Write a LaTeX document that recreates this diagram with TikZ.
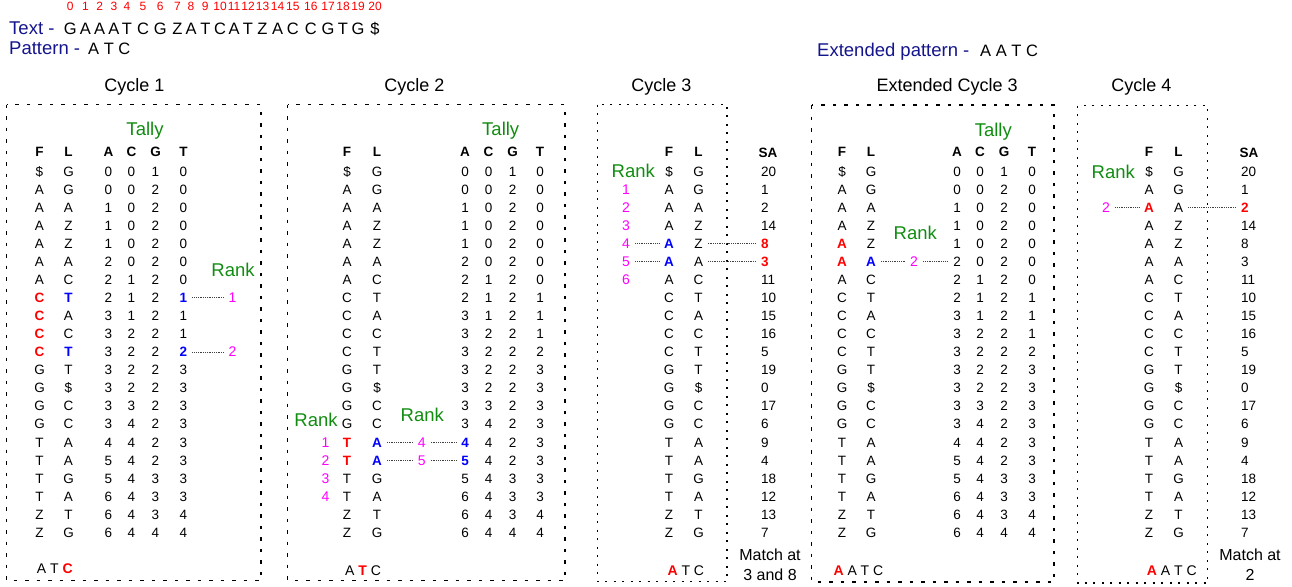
\documentclass[tikz,border=0pt]{standalone}
\usepackage{fontspec}
\setmainfont{Liberation Sans}

\definecolor{navy}{RGB}{20,20,140}
\definecolor{tgreen}{RGB}{16,140,16}
\definecolor{hred}{RGB}{255,0,0}
\definecolor{hblue}{RGB}{0,0,255}
\definecolor{rankpink}{RGB}{255,0,255}

\newcommand\px[1]{\fontsize{#1}{#1}\selectfont}
% baseline of table row #1 (row 0 is the "$" row)
\newcommand\rowy[1]{176.25+18.05*#1}

% highlighted cells: \sethl{<cell>}{<format>}
\newcommand\hlfmt[2]{\ifcsname hl@#1\endcsname\csname hl@#1\endcsname\fi#2}
\newcommand\sethl[2]{\expandafter\def\csname hl@#1\endcsname{#2}}
\newcommand\hlR{\color{hred}\bfseries}
\newcommand\hlB{\color{hblue}\bfseries}

% rows: F / L / tally A / C / G / T / SA
\newcommand\bwrows{\$/G/0/0/1/0/20, A/G/0/0/2/0/1, A/A/1/0/2/0/2, A/Z/1/0/2/0/14,
 A/Z/1/0/2/0/8, A/A/2/0/2/0/3, A/C/2/1/2/0/11, C/T/2/1/2/1/10, C/A/3/1/2/1/15,
 C/C/3/2/2/1/16, C/T/3/2/2/2/5, G/T/3/2/2/3/19, G/\$/3/2/2/3/0, G/C/3/3/2/3/17,
 G/C/3/4/2/3/6, T/A/4/4/2/3/9, T/A/5/4/2/3/4, T/G/5/4/3/3/18, T/A/6/4/3/3/12,
 Z/T/6/4/3/4/13, Z/G/6/4/4/4/7}

\tikzset{
  cell/.style={inner sep=0pt, anchor=base, text height=9.6pt, text depth=0pt, font=\px{13.5}},
  head/.style={cell, font=\px{13.5}\bfseries},
  rankno/.style={cell, text=rankpink, font=\px{14}},
  lbl/.style={inner sep=0pt, anchor=base, text=tgreen, font=\px{18.5}},
  title/.style={inner sep=0pt, anchor=base, font=\px{18}},
  navytext/.style={inner sep=0pt, anchor=base west, text=navy, font=\px{18.5}},
  seq/.style={inner sep=0pt, anchor=base, font=\px{16.5}},
  idx/.style={inner sep=0pt, anchor=base, text=hred, font=\px{12}},
  pat/.style={inner sep=0pt, anchor=base west, font=\px{14}},
  matchtxt/.style={inner sep=0pt, anchor=base, font=\px{16}},
  link/.style={draw=black!75, line width=0.7pt, dash pattern=on 0.9pt off 0.9pt,
    shorten <=5pt, shorten >=5pt},
  widebox/.style={draw=black, line width=1.6pt, dash pattern=on 3.5pt off 8pt},
  narrowbox/.style={draw=black, line width=1.3pt, dash pattern=on 2pt off 6.5pt},
}

% F and L columns: #1 name, #2 x of F, #3 x of L
\newcommand\FLcols[3]{%
  \node[head] (#1hF) at (#2,156.5) {F};
  \node[head] (#1hL) at (#3,156.5) {L};
  \foreach \vF/\vL/\vA/\vC/\vG/\vT/\vS [count=\ri from 0] in \bwrows {
    \node[cell] (#1F\ri) at (#2,{\rowy{\ri}}) {\hlfmt{#1F\ri}{\vF}};
    \node[cell] (#1L\ri) at (#3,{\rowy{\ri}}) {\hlfmt{#1L\ri}{\vL}};
  }%
}
% tally columns: #1 name, #2..#5 x of A, C, G, T
\newcommand\tallycols[5]{%
  \node[head] (#1hA) at (#2,156.5) {A};
  \node[head] (#1hC) at (#3,156.5) {C};
  \node[head] (#1hG) at (#4,156.5) {G};
  \node[head] (#1hT) at (#5,156.5) {T};
  \foreach \vF/\vL/\vA/\vC/\vG/\vT/\vS [count=\ri from 0] in \bwrows {
    \node[cell] (#1A\ri) at (#2,{\rowy{\ri}}) {\hlfmt{#1A\ri}{\vA}};
    \node[cell] (#1C\ri) at (#3,{\rowy{\ri}}) {\hlfmt{#1C\ri}{\vC}};
    \node[cell] (#1G\ri) at (#4,{\rowy{\ri}}) {\hlfmt{#1G\ri}{\vG}};
    \node[cell] (#1T\ri) at (#5,{\rowy{\ri}}) {\hlfmt{#1T\ri}{\vT}};
  }%
}
% suffix array column: #1 name, #2 x of header, #3 left x of values
\newcommand\sacol[3]{%
  \node[head] (#1hS) at (#2,157.5) {SA};
  \foreach \vF/\vL/\vA/\vC/\vG/\vT/\vS [count=\ri from 0] in \bwrows {
    \node[cell, anchor=base west] (#1S\ri) at (#3,{\rowy{\ri}}) {\hlfmt{#1S\ri}{\vS}};
  }%
}

% highlighted cells of each cycle
\sethl{c1F7}{\hlR}\sethl{c1F8}{\hlR}\sethl{c1F9}{\hlR}\sethl{c1F10}{\hlR}
\sethl{c1L7}{\hlB}\sethl{c1L10}{\hlB}\sethl{c1T7}{\hlB}\sethl{c1T10}{\hlB}
\sethl{c2F15}{\hlR}\sethl{c2F16}{\hlR}\sethl{c2L15}{\hlB}\sethl{c2L16}{\hlB}
\sethl{c2A15}{\hlB}\sethl{c2A16}{\hlB}
\sethl{c3F4}{\hlB}\sethl{c3F5}{\hlB}\sethl{c3S4}{\hlR}\sethl{c3S5}{\hlR}
\sethl{e3F4}{\hlR}\sethl{e3F5}{\hlR}\sethl{e3L5}{\hlB}
\sethl{c4F2}{\hlR}\sethl{c4S2}{\hlR}

\begin{document}
\begin{tikzpicture}[x=1pt,y=-1pt]
\useasboundingbox (0,0) rectangle (1292,586);

% text, positions and pattern
\node[navytext] (textlbl) at (9,34.3) {Text -};
\foreach \ch/\xx [count=\i from 0] in {G/70.3, A/85.5, A/99.7, A/114, T/127, C/143,
  G/160.3, Z/177.5, A/191, T/205.3, C/220, A/234, T/248, Z/262.5, A/277.5, C/292.8,
  C/310.8, G/328, T/343, G/358, \$/375} {
  \node[seq] (s\i) at (\xx,34.3) {\ch};
  \node[idx] (n\i) at (\xx,11) {\i};
}
\node[navytext] (patlbl) at (9,54.3) {Pattern -};
\node[seq, anchor=base west] (pat) at (88,54.3) {A T C};
\node[navytext] (extlbl) at (817,56.5) {Extended pattern -};
\node[seq, anchor=base west] (extpat) at (980,56.5) {A A T C};

% cycle titles
\node[title] (t1) at (134.5,91) {Cycle 1};
\node[title] (t2) at (414.5,91) {Cycle 2};
\node[title] (t3) at (661.3,91) {Cycle 3};
\node[title] (te) at (947.2,91) {Extended Cycle 3};
\node[title] (t4) at (1141.3,91) {Cycle 4};

% frames
\draw[widebox] (6.5,104.5) rectangle (261,580.5);
\draw[widebox] (287.5,104.5) rectangle (565,580.5);
\draw[narrowbox] (597.5,104.5) rectangle (727,581.5);
\draw[widebox] (811.5,105) rectangle (1054,582);
\draw[narrowbox] (1077.5,105.5) rectangle (1207.5,583);

% ---------------- Cycle 1
\FLcols{c1}{39.5}{68.5}
\tallycols{c1}{108.5}{131.5}{155.5}{183.5}
\node[lbl] (c1tally) at (145,135) {Tally};
\node[lbl] (c1rank) at (233,276) {Rank};
\node[rankno] (c1k1) at (232.5,{\rowy{7}}) {1};
\node[rankno] (c1k2) at (232.5,{\rowy{10}}) {2};
\draw[link] (c1T7) -- (c1k1);
\draw[link] (c1T10) -- (c1k2);
\node[pat] (c1pat) at (36.7,573) {A T {\hlR C}};

% ---------------- Cycle 2
\FLcols{c2}{347}{377}
\tallycols{c2}{465}{488.5}{512.5}{540}
\node[lbl] (c2tally) at (500.7,135) {Tally};
\node[lbl] (c2rankl) at (316,426.7) {Rank};
\node[lbl] (c2rankr) at (422.3,421) {Rank};
\foreach \k in {1,...,4} {
  \node[rankno] (c2j\k) at (325.5,{\rowy{(14+\k)}}) {\k};
}
\node[rankno] (c2k4) at (421.7,{\rowy{15}}) {4};
\node[rankno] (c2k5) at (421.7,{\rowy{16}}) {5};
\draw[link] (c2L15) -- (c2k4);
\draw[link] (c2k4) -- (c2A15);
\draw[link] (c2L16) -- (c2k5);
\draw[link] (c2k5) -- (c2A16);
\node[pat] (c2pat) at (345,575) {A {\hlR T} C};

% ---------------- Cycle 3
\FLcols{c3}{669}{698.5}
\sacol{c3}{768}{761}
\node[lbl] (c3rank) at (633.3,177.3) {Rank};
\foreach \k in {1,...,6} {
  \node[rankno] (c3k\k) at (626,{\rowy{\k}}) {\k};
}
\draw[link] (c3k4) -- (c3F4);
\draw[link] (c3k5) -- (c3F5);
\draw[link] (c3L4) -- (c3S4);
\draw[link] (c3L5) -- (c3S5);
\node[pat] (c3pat) at (667.3,575) {{\hlR A} T C};
\node[matchtxt] (c3match) at (770,560.7) {Match at};
\node[matchtxt] (c3where) at (770,580.7) {3 and 8};

% ---------------- Extended cycle 3
\FLcols{e3}{842}{871}
\tallycols{e3}{957}{980}{1004}{1032}
\node[lbl] (e3tally) at (993.3,136.5) {Tally};
\node[lbl] (e3rank) at (915.3,239.3) {Rank};
\node[rankno] (e3k2) at (914,{\rowy{5}}) {2};
\draw[link] (e3L5) -- (e3k2);
\draw[link] (e3k2) -- (e3A5);
\node[pat] (e3pat) at (833.3,575) {{\hlR A} A T C};

% ---------------- Cycle 4
\FLcols{c4}{1149}{1178.5}
\sacol{c4}{1249}{1241}
\node[lbl] (c4rank) at (1113.3,178.3) {Rank};
\node[rankno] (c4k2) at (1106,{\rowy{2}}) {2};
\draw[link] (c4k2) -- (c4F2);
\draw[link] (c4L2) -- (c4S2);
\node[pat] (c4pat) at (1146.7,575) {{\hlR A} A T C};
\node[matchtxt] (c4match) at (1250,560.7) {Match at};
\node[matchtxt] (c4where) at (1250,580.7) {2};
\end{tikzpicture}
\end{document}
